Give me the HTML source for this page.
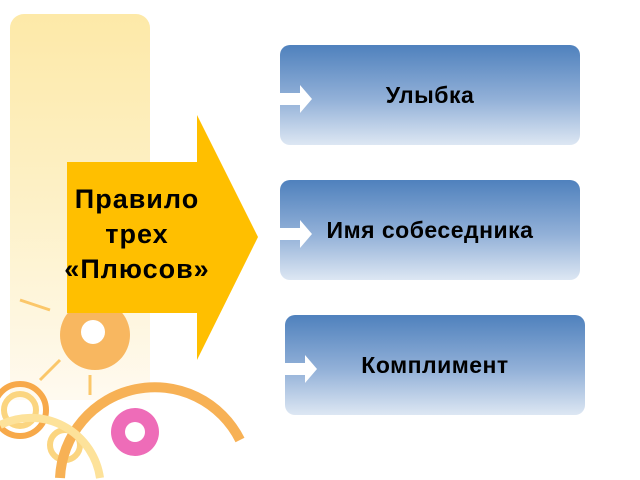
<!DOCTYPE html>
<html><head><meta charset="utf-8"><style>
html,body{margin:0;padding:0;width:640px;height:480px;overflow:hidden}
body{background:#fff;position:relative;font-family:"Liberation Sans",sans-serif}
.panel{position:absolute;left:10px;top:14px;width:140px;height:386px;border-radius:14px 14px 0 0;background:linear-gradient(180deg,#fde9a8 0%,#fdf1c8 50%,#fffaf0 100%)}
.box{position:absolute;width:300px;height:100px;border-radius:10px;background:linear-gradient(180deg,#4f81bd 0%,#93b1d8 55%,#dde7f3 100%);display:flex;align-items:center;justify-content:center;font-weight:bold;font-size:23px;color:#000;letter-spacing:0.5px}
.lbl{position:absolute;left:52px;top:182px;width:170px;text-align:center;font-weight:bold;font-size:27px;line-height:35px;letter-spacing:1px}
</style></head><body>
<div class="panel"></div>
<svg width="640" height="480" viewBox="0 0 640 480" style="position:absolute;left:0;top:0;overflow:hidden">
<g fill="none" stroke-width="6">
<circle cx="20" cy="410" r="26" stroke="#f7a94a"/>
<circle cx="20" cy="410" r="16" stroke="#fbd580"/>
<circle cx="65" cy="445" r="15" stroke="#fbd580"/>
<path d="M60,478 A95,95 0 0 1 240,440" stroke="#f7b155" stroke-width="10"/>
<path d="M0,425 A70,70 0 0 1 100,478" stroke="#fde29a" stroke-width="8"/>
</g>
<circle cx="95" cy="335" r="35" fill="#f8b760"/>
<circle cx="93" cy="332" r="12" fill="#fff"/>
<g stroke="#fbc769" stroke-width="3">
<line x1="50" y1="310" x2="20" y2="300"/><line x1="60" y1="360" x2="40" y2="380"/><line x1="130" y1="300" x2="150" y2="290"/><line x1="90" y1="375" x2="90" y2="395"/>
</g>
<circle cx="135" cy="432" r="24" fill="#ee6cb8"/>
<circle cx="135" cy="432" r="10" fill="#fff"/>
<polygon points="67,162 197,162 197,115 258,237 197,360 197,313 67,313" fill="#ffbf00"/>
<g fill="#fff">
<polygon points="280,93 300,93 300,85 312,99 300,113 300,105 280,105"/>
<polygon points="280,228 300,228 300,220 312,234 300,248 300,240 280,240"/>
<polygon points="285,363 305,363 305,355 317,369 305,383 305,375 285,375"/>
</g>
</svg>
<div class="lbl">Правило<br>трех<br>«Плюсов»</div>
<div class="box" style="left:280px;top:45px">Улыбка</div>
<div class="box" style="left:280px;top:180px">Имя собеседника</div>
<div class="box" style="left:285px;top:315px">Комплимент</div>
<svg width="640" height="480" style="position:absolute;left:0;top:0">
<g fill="#fff">
<polygon points="280,93 300,93 300,85 312,99 300,113 300,105 280,105"/>
<polygon points="280,228 300,228 300,220 312,234 300,248 300,240 280,240"/>
<polygon points="285,363 305,363 305,355 317,369 305,383 305,375 285,375"/>
</g></svg>
</body></html>
